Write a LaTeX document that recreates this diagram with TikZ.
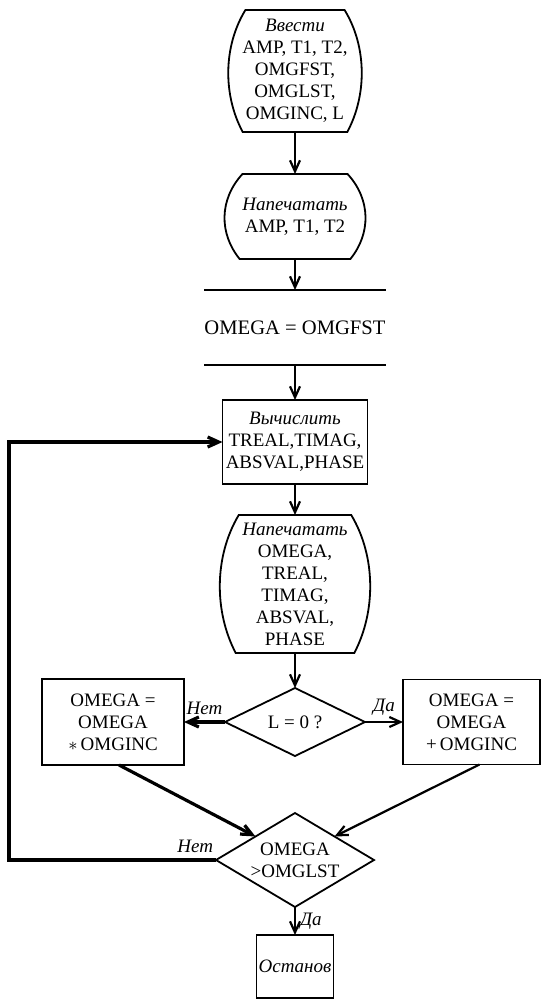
\documentclass[tikz,border=0pt]{standalone}
\usepackage{fontspec}
\setmainfont{Liberation Serif}
\usetikzlibrary{calc,arrows.meta}

\begin{document}
\begin{tikzpicture}[x=0.5pt,y=-0.5pt,
  txt/.style={font=\fontsize{9.5}{11}\selectfont,align=center,inner sep=0pt,outer sep=0pt},
  proc/.style={txt,draw,line width=0.9pt},
  flow/.style={line width=1.1pt,-{Straight Barb[length=5.5pt,width=5pt]}},
  heavy/.style={flow,line width=1.6pt},
  lbl/.style={font=\fontsize{9.5}{10}\selectfont\itshape,inner sep=0pt}]
  \useasboundingbox (0,0) rectangle (542,1000);

  % main column
  \node[txt,minimum width=67pt,minimum height=61pt] (inp) at (295,71)
    {\textit{Ввести}\\AMP, T1, T2,\\OMGFST,\\OMGLST,\\OMGINC, L};
  \node[txt,minimum width=71pt,minimum height=42.5pt] (out1) at (295,216.5)
    {\textit{Напечатать}\\AMP, T1, T2};
  \node[txt,font=\fontsize{10.3}{11}\selectfont,minimum width=76.5pt,minimum height=37.5pt] (init) at (295,327.5)
    {OMEGA = OMGFST};
  \node[proc,minimum width=72.5pt,minimum height=42pt] (calc) at (295,442)
    {\textit{Вычислить}\\TREAL,TIMAG,\\ABSVAL,PHASE};
  \node[txt,minimum width=76pt,minimum height=69pt] (out2) at (295,584)
    {\textit{Напечатать}\\OMEGA,\\TREAL,\\TIMAG,\\ABSVAL,\\PHASE};
  \node[txt,minimum width=70pt,minimum height=34pt] (test1) at (295,722) {L = 0 ?};
  \node[proc,minimum width=71pt,minimum height=43pt] (mul) at (113,722)
    {OMEGA =\\OMEGA\\$\ast$\,OMGINC};
  \node[proc,minimum width=68.5pt,minimum height=42.5pt] (add) at (471.5,722)
    {OMEGA =\\OMEGA\\+\,OMGINC};
  \node[txt,minimum width=79pt,minimum height=47pt] (test2) at (295,860)
    {OMEGA\\>OMGLST};
  \node[proc,minimum width=38.5pt,minimum height=31.5pt] (stop) at (295,966.5)
    {\textit{Останов}};
  \coordinate (rail) at (9,0);

  % outlines
  \foreach \n in {inp,out1,out2}
    \draw[line width=0.9pt] ($(\n.north west)!0.13!(\n.north east)$) -- ($(\n.north west)!0.87!(\n.north east)$)
      .. controls ($(\n.north east)!0.3!(\n.south east)+(5,0)$) and ($(\n.north east)!0.7!(\n.south east)+(5,0)$)
      .. ($(\n.south west)!0.89!(\n.south east)$) -- ($(\n.south west)!0.11!(\n.south east)$)
      .. controls ($(\n.north west)!0.7!(\n.south west)+(-5,0)$) and ($(\n.north west)!0.3!(\n.south west)+(-5,0)$)
      .. ($(\n.north west)!0.13!(\n.north east)$) -- cycle;
  \foreach \n in {test1,test2}
    \draw[line width=0.9pt] (\n.north) -- (\n.east) -- (\n.south) -- (\n.west) -- cycle;
  \draw[line width=0.9pt] (init.north west) -- (init.north east);
  \draw[line width=0.9pt] (init.south west) -- (init.south east);

  % connectors
  \draw[flow] (inp.south) -- (out1.north);
  \draw[flow] (out1.south) -- (init.north);
  \draw[flow] (init.south) -- (calc.north);
  \draw[flow] (calc.south) -- (out2.north);
  \draw[flow] (out2.south) -- (test1.north);
  \draw[heavy] (test1.west) -- (mul.east) node[lbl,midway,above=3pt] {Нет};
  \draw[flow] (test1.east) -- (add.west) node[lbl,midway,above=3pt] {Да};
  \draw[heavy] ([xshift=3pt]mul.south) -- ($(test2.west)!0.5!(test2.north)$);
  \draw[flow] ([xshift=4pt]add.south) -- ($(test2.north)!0.5!(test2.east)$);
  \draw[heavy] (test2.west) -- node[lbl,pos=0.1,above=3pt] {Нет} (test2.west -| rail) |- (calc.west);
  \draw[flow] (test2.south) -- (stop.north) node[lbl,midway,right=2pt] {Да};
\end{tikzpicture}
\end{document}
